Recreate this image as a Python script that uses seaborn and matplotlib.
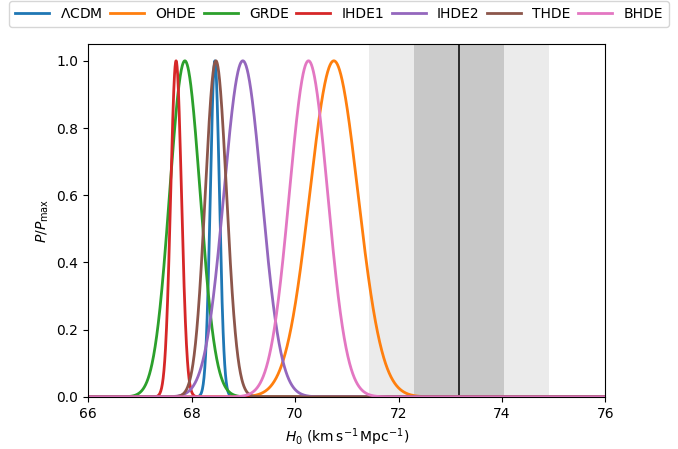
import numpy as np
import pandas as pd
import matplotlib
matplotlib.use("Agg")
import matplotlib.pyplot as plt
import seaborn as sns

# Posterior summaries of H0 for each model (mean, standard deviation)
models = [r"$\Lambda$CDM", "OHDE", "GRDE", "IHDE1", "IHDE2", "THDE", "BHDE"]
h0_mean = [68.45, 70.75, 67.87, 67.70, 68.99, 68.47, 70.26]
h0_sigma = [0.088, 0.465, 0.295, 0.104, 0.366, 0.206, 0.37]

# Local (SH0ES-like) measurement
h0_local = 73.17
h0_local_err = 0.87

grid = np.linspace(66, 76, 2001)
frames = []
for name, mu, sd in zip(models, h0_mean, h0_sigma):
    p = np.exp(-0.5 * ((grid - mu) / sd) ** 2)
    frames.append(pd.DataFrame({"H0": grid, "P": p / p.max(), "model": name}))
df = pd.concat(frames, ignore_index=True)

fig = plt.figure(figsize=(6.78, 4.49), dpi=100)
ax = fig.add_axes([0.130, 0.116, 0.763, 0.786])

ax.axvspan(h0_local - 2 * h0_local_err, h0_local + 2 * h0_local_err,
           color="#ebebeb", lw=0, zorder=0)
ax.axvspan(h0_local - h0_local_err, h0_local + h0_local_err,
           color="#c8c8c8", lw=0, zorder=0)
ax.axvline(h0_local, color="black", lw=1.1, zorder=1)

sns.lineplot(data=df, x="H0", y="P", hue="model", hue_order=models,
             palette=sns.color_palette("tab10", len(models)),
             lw=2, ax=ax, legend=False, zorder=2)

ax.set_xlim(66, 76)
ax.set_ylim(0, 1.05)
ax.set_xticks([66, 68, 70, 72, 74, 76])
ax.set_yticks([0.0, 0.2, 0.4, 0.6, 0.8, 1.0])
ax.set_xlabel(r"$H_0$ (km$\,$s$^{-1}\,$Mpc$^{-1}$)")
ax.set_ylabel(r"$P/P_{\rm max}$")

handles = ax.get_lines()[1:]
fig.legend(handles, models, loc="upper center", ncol=7,
           bbox_to_anchor=(0.5, 1.0), borderaxespad=0.1,
           handlelength=2.45, columnspacing=0.55, frameon=True)

fig.savefig("out.png", dpi=100)
